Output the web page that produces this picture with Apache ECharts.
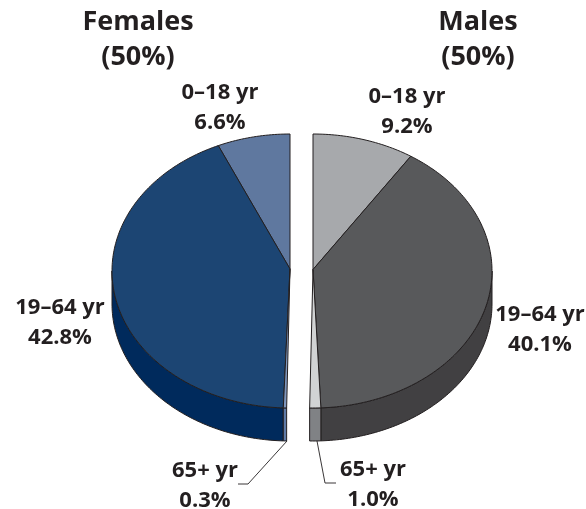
<!DOCTYPE html>
<html>
<head>
<meta charset="utf-8">
<style>html,body{margin:0;padding:0;background:#fff}#c{width:586px;height:509px}</style>
<script src="https://cdn.jsdelivr.net/npm/echarts@6/dist/echarts.min.js"></script>
</head>
<body>
<div id="c"></div>
<script>
// ---- data ----
const ageGroups = ['0–18 yr', '19–64 yr', '65+ yr'];
const femaleValues = [6.6, 42.8, 0.3];
const maleValues = [9.2, 40.1, 1.0];
const groupNames = ['Females', 'Males'];
const groupShares = ['(50%)', '(50%)'];

// ---- styling and layout ----
const FONT = '"Open Sans", sans-serif';
const INK = '#231f20';
const femaleTop = ['#5f789f', '#1c4573', '#7f97bd'];
const femaleSide = ['#3f5a85', '#002a5c', '#5f7ba8'];
const maleTop = ['#a7a9ac', '#58595b', '#d1d3d4'];
const maleSide = ['#808285', '#414042', '#808285'];
const PIE = [
  { dir: -1, cx: 290, apexY: 269, cy: 271, rx: 178, ry: 137, depth: 33, top: femaleTop, side: femaleSide, values: femaleValues },
  { dir: 1, cx: 313, apexY: 269.5, cy: 271, rx: 179, ry: 137, depth: 33, top: maleTop, side: maleSide, values: maleValues }
];
const sliceLabelPos = [
  [[220, 108], [60, 323], [205, 486]],
  [[407, 112], [540, 330], [373, 485]]
];
const headPos = [[138, 40], [478, 40]];
const leaders = [
  [[287, 441], [248, 484], [238, 484]],
  [[317, 441], [325, 483], [336, 483]]
];

function pt(p, deg, dy) {
  const a = deg * Math.PI / 180;
  return [p.cx + p.dir * p.rx * Math.sin(a), p.cy - p.ry * Math.cos(a) + (dy || 0)];
}
function arc(p, a, b, dy) {
  const out = [], n = Math.max(2, Math.ceil(Math.abs(b - a)));
  for (let i = 0; i <= n; i++) out.push(pt(p, a + (b - a) * i / n, dy));
  return out;
}
const lineStyle = { stroke: INK, lineWidth: 1, lineJoin: 'round' };

function sliceSeries(p, pIndex) {
  const rows = [];
  let acc = 0;
  p.values.forEach((v, i) => { rows.push([acc, acc + v, i]); acc += v; });
  return {
    type: 'custom',
    name: groupNames[pIndex],
    coordinateSystem: 'none',
    silent: true,
    clip: false,
    data: rows,
    renderItem: function (params, api) {
      const a = api.value(0) * 3.6, b = api.value(1) * 3.6, i = api.value(2);
      const children = [];
      const sa = Math.max(a, 90);
      if (b > 90) {
        const upper = arc(p, sa, b, 0);
        const lower = arc(p, b, sa, p.depth);
        children.push({
          type: 'polygon', z2: 1,
          shape: { points: upper.concat(lower) },
          style: Object.assign({ fill: p.side[i] }, lineStyle)
        });
      }
      children.push({
        type: 'polygon', z2: 2 + i,
        shape: { points: [[p.cx, p.apexY]].concat(arc(p, a, b, 0)) },
        style: Object.assign({ fill: p.top[i] }, lineStyle)
      });
      return { type: 'group', children: children };
    }
  };
}

const graphics = [];
PIE.forEach((p, k) => {
  graphics.push({
    type: 'text', x: headPos[k][0], y: headPos[k][1], silent: true,
    style: { text: groupNames[k] + '\n' + groupShares[k], fill: INK, align: 'center', verticalAlign: 'middle',
      font: 'bold 27px ' + FONT, lineHeight: 35 }
  });
  ageGroups.forEach((g, i) => {
    graphics.push({
      type: 'text', x: sliceLabelPos[k][i][0], y: sliceLabelPos[k][i][1], silent: true,
      style: { text: g + '\n' + p.values[i].toFixed(1) + '%', fill: INK, align: 'center', verticalAlign: 'middle',
        font: 'bold 22px ' + FONT, lineHeight: 30 }
    });
  });
  graphics.push({
    type: 'polyline', silent: true, shape: { points: leaders[k] },
    style: { stroke: '#3a3738', lineWidth: 1, fill: null }
  });
});

const chart = echarts.init(document.getElementById('c'), null, { renderer: 'canvas', width: 586, height: 509 });
chart.setOption({
  animation: false,
  backgroundColor: '#ffffff',
  graphic: graphics,
  series: PIE.map(sliceSeries)
});
</script>
</body>
</html>
